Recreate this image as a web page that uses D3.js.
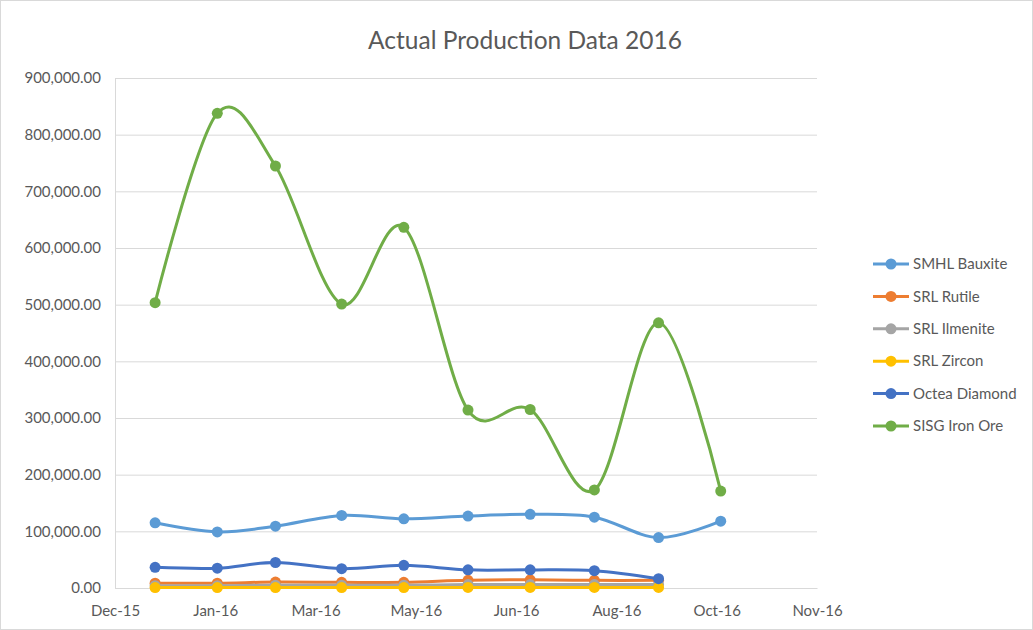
<!DOCTYPE html>
<html>
<head>
<meta charset="utf-8">
<script src="https://cdn.jsdelivr.net/npm/d3@7"></script>
<style>
  body { margin: 0; background: #fff; }
  text { font-family: Lato, "Open Sans", sans-serif; fill: #595959; }
</style>
</head>
<body>
<svg id="chart" width="1033" height="630"></svg>
<script>
// dates of the monthly readings (x positions)
const pointDates = ["2016-01-01", "2016-02-01", "2016-03-01", "2016-04-03", "2016-05-04",
  "2016-06-05", "2016-07-06", "2016-08-07", "2016-09-08", "2016-10-09"];
// axis ticks, every 50 days like the Excel value axis
const tickDates = ["2015-12-12", "2016-01-31", "2016-03-21", "2016-05-10",
  "2016-06-29", "2016-08-18", "2016-10-07", "2016-11-26"];
const yTicks = [0, 100000, 200000, 300000, 400000, 500000, 600000, 700000, 800000, 900000];

const seriesNames = ["SMHL Bauxite", "SRL Rutile", "SRL Ilmenite", "SRL Zircon", "Octea Diamond", "SISG Iron Ore"];
const seriesColors = ["#5B9BD5", "#ED7D31", "#A5A5A5", "#FFC000", "#4472C4", "#70AD47"];

const bauxite = [115000, 99000, 109000, 128000, 122000, 127000, 130000, 125000, 89000, 118000];
const rutile = [8500, 8500, 10500, 10000, 10000, 13500, 14500, 13500, 13500];
const ilmenite = [4000, 4000, 5000, 5000, 5000, 6000, 6000, 6000, 6000];
const zircon = [800, 800, 800, 800, 800, 1000, 1000, 1000, 1000];
const diamond = [36500, 35000, 45000, 34000, 40000, 32000, 32000, 30500, 16500];
const ironOre = [503500, 837600, 744700, 501000, 636500, 314000, 315000, 173000, 468000, 171000];

const allSeries = [bauxite, rutile, ilmenite, zircon, diamond, ironOre];

const parse = d3.utcParse("%Y-%m-%d");
const svg = d3.select("#chart");
const width = 1033, height = 630;

// chart border
svg.append("rect")
  .attr("x", 0.5).attr("y", 0.5)
  .attr("width", width - 1).attr("height", height - 1)
  .attr("fill", "#fff")
  .attr("stroke", "#d9d9d9");

const plot = { left: 115, right: 817, top: 78, bottom: 588 };

const x = d3.scaleUtc()
  .domain([parse(tickDates[0]), parse(tickDates[tickDates.length - 1])])
  .range([plot.left, plot.right]);

const y = d3.scaleLinear()
  .domain([0, 900000])
  .range([plot.bottom, plot.top]);

// title
svg.append("text")
  .attr("x", 525).attr("y", 49)
  .attr("text-anchor", "middle")
  .style("font-size", "24.5px")
  .text("Actual Production Data 2016");

// gridlines + y labels
const yAxis = d3.axisLeft(y)
  .tickValues(yTicks)
  .tickFormat(d3.format(",.2f"))
  .tickSize(-(plot.right - plot.left))
  .tickPadding(14);

const gy = svg.append("g")
  .attr("transform", `translate(${plot.left},0)`)
  .call(yAxis);
gy.select(".domain").attr("stroke", "#d9d9d9");
gy.selectAll(".tick line").attr("stroke", "#d9d9d9");
gy.selectAll(".tick text").style("font-size", "15px").style("font-family", "Lato, sans-serif").attr("fill", "#595959");

// x axis
const xAxis = d3.axisBottom(x)
  .tickValues(tickDates.map(parse))
  .tickFormat(d3.utcFormat("%b-%y"))
  .tickSize(0)
  .tickPadding(17);

const gx = svg.append("g")
  .attr("transform", `translate(0,${plot.bottom})`)
  .call(xAxis);
gx.select(".domain").attr("stroke", "#d9d9d9");
gx.selectAll(".tick text").style("font-size", "15px").style("font-family", "Lato, sans-serif").attr("fill", "#595959");

// series lines and markers
const line = d3.line()
  .x(d => x(d.date))
  .y(d => y(d.value))
  .curve(d3.curveCatmullRom.alpha(0));

allSeries.forEach((vals, i) => {
  const data = vals.map((v, j) => ({ date: parse(pointDates[j]), value: v }));
  const g = svg.append("g");
  g.append("path")
    .datum(data)
    .attr("fill", "none")
    .attr("stroke", seriesColors[i])
    .attr("stroke-width", 3)
    .attr("stroke-linejoin", "round")
    .attr("d", line);
  g.selectAll("circle")
    .data(data)
    .enter()
    .append("circle")
    .attr("cx", d => x(d.date))
    .attr("cy", d => y(d.value))
    .attr("r", 5.5)
    .attr("fill", seriesColors[i]);
});

// legend
const legend = svg.append("g").attr("transform", "translate(873,264)");
seriesNames.forEach((name, i) => {
  const row = legend.append("g").attr("transform", `translate(0,${i * 32.4})`);
  row.append("line")
    .attr("x1", 0).attr("x2", 36)
    .attr("stroke", seriesColors[i])
    .attr("stroke-width", 3);
  row.append("circle")
    .attr("cx", 18).attr("r", 5.5)
    .attr("fill", seriesColors[i]);
  row.append("text")
    .attr("x", 40).attr("dy", "0.35em")
    .style("font-size", "15px")
    .text(name);
});
</script>
</body>
</html>
